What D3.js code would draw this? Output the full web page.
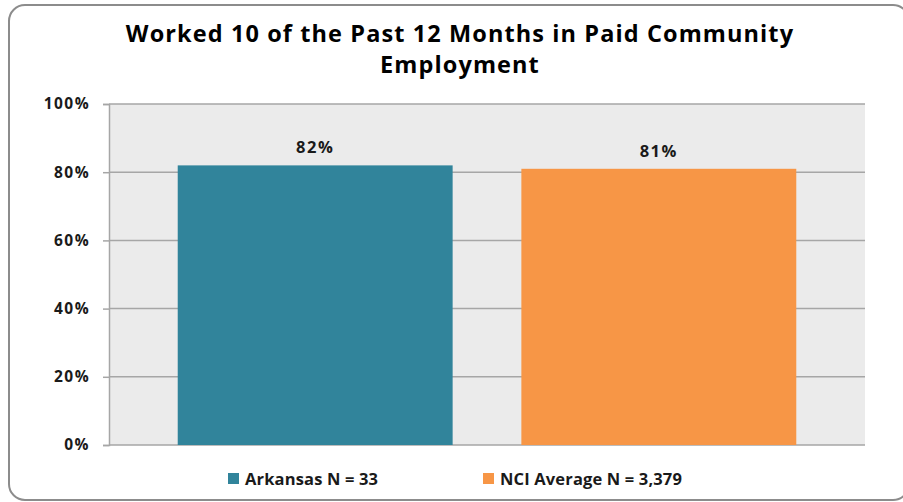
<!DOCTYPE html>
<html><head><meta charset="utf-8">
<script src="https://cdn.jsdelivr.net/npm/d3@7"></script>
<style>body{margin:0;background:#fff;}svg{display:block;}</style>
</head><body>
<svg id="c" width="903" height="502"></svg>
<script>
const titleLines = ["Worked 10 of the Past 12 Months in Paid Community", "Employment"];
const series = ["Arkansas N = 33", "NCI Average N = 3,379"];
const values = [0.82, 0.81];
const valueLabels = ["82%", "81%"];
const colors = ["#31849B", "#F79646"];
const yTicks = [0, 0.2, 0.4, 0.6, 0.8, 1.0];

const svg = d3.select("#c");
const font = "'Open Sans', sans-serif";
svg.append("rect").attr("x", 9).attr("y", 5).attr("width", 900).attr("height", 495)
  .attr("rx", 16).attr("fill", "#fff").attr("stroke", "#8c8c8c").attr("stroke-width", 2);

const L = 109, R = 865, T = 104, B = 445;
const x = d3.scaleBand().domain(series).range([L, R]).paddingInner(0.2).paddingOuter(0.2);
const y = d3.scaleLinear().domain([0, 1]).range([B, T]);

svg.append("rect").attr("x", L).attr("y", T).attr("width", R - L).attr("height", B - T).attr("fill", "#ebebeb");

const g = svg.append("g").attr("transform", `translate(${L},0)`);
g.call(d3.axisLeft(y).tickValues(yTicks).tickSize(6).tickFormat(d3.format(".0%")));
g.select(".domain").attr("stroke", "#a6a6a6").attr("stroke-width", 1.5);
g.selectAll(".tick line").attr("stroke", "#a6a6a6").attr("stroke-width", 1.5);
g.selectAll(".tick text").attr("font-family", font).attr("font-weight", "bold")
  .attr("font-size", 15.5).attr("letter-spacing", 1.4).attr("fill", "#1a1a1a").attr("x", -19);

svg.append("g").selectAll("line").data(yTicks).join("line")
  .attr("x1", L).attr("x2", R).attr("y1", d => y(d)).attr("y2", d => y(d))
  .attr("stroke", "#a6a6a6").attr("stroke-width", 1.5);

svg.append("g").selectAll("rect").data(series).join("rect")
  .attr("x", d => x(d)).attr("width", x.bandwidth())
  .attr("y", (d, i) => y(values[i])).attr("height", (d, i) => B - y(values[i]))
  .attr("fill", (d, i) => colors[i]);

svg.append("g").selectAll("text").data(series).join("text")
  .attr("x", d => x(d) + x.bandwidth() / 2).attr("y", (d, i) => y(values[i]) - 12)
  .attr("text-anchor", "middle").attr("font-family", font).attr("font-weight", "bold")
  .attr("font-size", 16.5).attr("letter-spacing", 1.5).attr("fill", "#1a1a1a").text((d, i) => valueLabels[i]);

svg.append("g").selectAll("text").data(titleLines).join("text")
  .attr("x", 460).attr("y", (d, i) => 42 + i * 31).attr("text-anchor", "middle")
  .attr("font-family", font).attr("font-weight", "bold").attr("font-size", 23.5)
  .attr("letter-spacing", 1.1).attr("fill", "#000").text(d => d);

const legX = [228, 483];
const lg = svg.append("g").selectAll("g").data(series).join("g")
  .attr("transform", (d, i) => `translate(${legX[i]},473)`);
lg.append("rect").attr("width", 11).attr("height", 11).attr("fill", (d, i) => colors[i]);
lg.append("text").attr("x", 17).attr("y", 11.5).attr("font-family", font).attr("font-weight", "bold")
  .attr("font-size", 16.5).attr("letter-spacing", 0.15).attr("fill", "#1a1a1a").text(d => d);
</script>
</body></html>
